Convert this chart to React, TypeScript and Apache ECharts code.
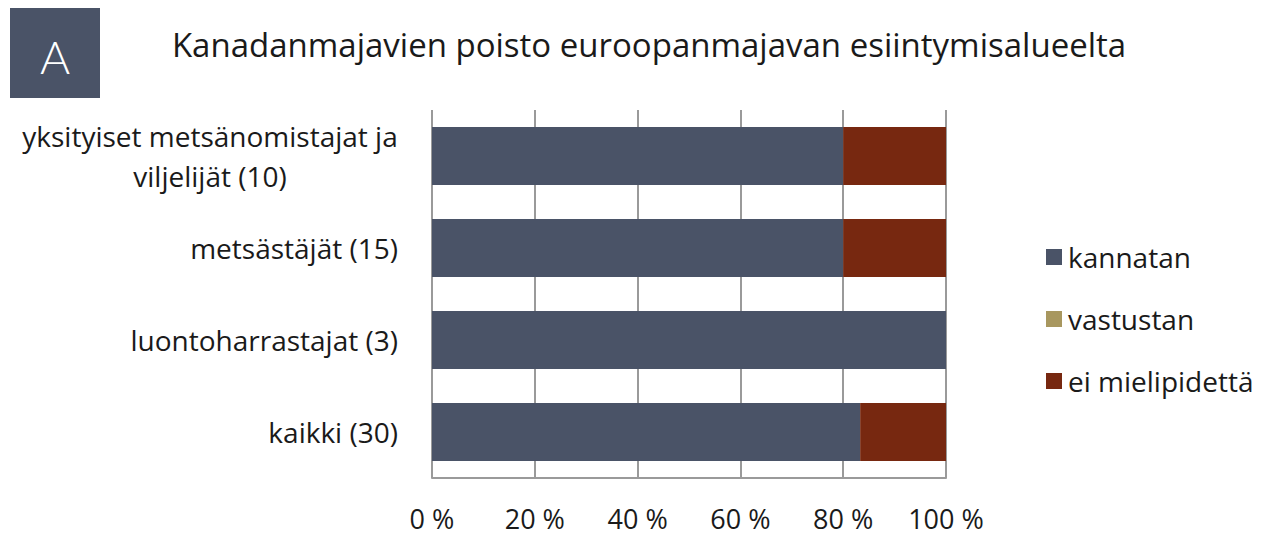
import React, { useEffect, useRef } from "react";
import * as echarts from "echarts";

const categories = [
  "yksityiset metsänomistajat ja\nviljelijät (10)",
  "metsästäjät (15)",
  "luontoharrastajat (3)",
  "kaikki (30)",
];
const seriesNames = ["kannatan", "vastustan", "ei mielipidettä"];
const kannatan = [80, 80, 100, 83.3];
const vastustan = [0, 0, 0, 0];
const eiMielipidetta = [20, 20, 0, 16.7];
const xTicks = [0, 20, 40, 60, 80, 100];
const titleText = "Kanadanmajavien poisto euroopanmajavan esiintymisalueelta";
const panelLetter = "A";

const colors = ["#4a5367", "#a8975f", "#772810"];
const FONT = "'Open Sans', Lato, sans-serif";
const TEXT = "#1a1a1a";
const LABEL_SIZE = 28;

export default function App() {
  const ref = useRef<HTMLDivElement>(null);
  useEffect(() => {
    if (!ref.current) return;
    const chart = echarts.init(ref.current, null, { renderer: "svg" });
    const values = [kannatan, vastustan, eiMielipidetta];
    chart.setOption({
      animation: false,
      color: colors,
      textStyle: { fontFamily: FONT },
      title: {
        text: titleText,
        left: 644,
        top: 23,
        textAlign: "center",
        textStyle: { fontFamily: FONT, fontSize: 33, fontWeight: "normal", color: TEXT },
      },
      graphic: [
        { type: "rect", left: 10, top: 8, shape: { width: 90, height: 90 }, style: { fill: "#4a5367" } },
        {
          type: "text",
          x: 55,
          y: 56,
          style: {
            text: panelLetter,
            fill: "#ffffff",
            font: `300 46px Lato, sans-serif`,
            align: "center",
            verticalAlign: "middle",
          },
        },
      ],
      legend: {
        orient: "vertical",
        left: 1041,
        top: 238,
        itemWidth: 16,
        itemHeight: 16,
        itemGap: 34,
        icon: "rect",
        data: seriesNames,
        textStyle: { fontFamily: FONT, fontSize: LABEL_SIZE, lineHeight: 28, color: TEXT, padding: [0, 0, 0, 1] },
      },
      grid: { left: 432, right: 319, top: 110, bottom: 58, containLabel: false },
      xAxis: {
        type: "value",
        min: 0,
        max: 100,
        interval: 20,
        axisLine: { show: true, lineStyle: { color: "#9a9a9a", width: 2 } },
        axisTick: { show: false },
        splitLine: { show: true, lineStyle: { color: "#9a9a9a", width: 2 } },
        axisLabel: {
          margin: 29,
          fontFamily: FONT,
          fontSize: 27,
          lineHeight: 22,
          color: TEXT,
          formatter: (v: number) => (xTicks.includes(v) ? `${v} %` : ""),
        },
      },
      yAxis: {
        type: "category",
        inverse: true,
        data: categories,
        axisLine: { show: false },
        axisTick: { show: false },
        axisLabel: {
          margin: 34,
          fontFamily: FONT,
          fontSize: LABEL_SIZE,
          color: TEXT,
          lineHeight: 40,
          formatter: (v: string) => {
            if (v.includes("\n")) {
              return v
                .split("\n")
                .map((l) => `{c|${l}}`)
                .join("\n");
            }
            return v;
          },
          rich: {
            c: {
              width: 376,
              align: "center",
              fontFamily: FONT,
              fontSize: LABEL_SIZE,
              color: TEXT,
              lineHeight: 40,
            },
          },
        },
      },
      series: seriesNames.map((name, i) => ({
        name,
        type: "bar",
        stack: "total",
        barWidth: 58,
        data: values[i],
        itemStyle: { color: colors[i] },
      })),
    });
    return () => chart.dispose();
  }, []);
  return (
    <div
      ref={ref}
      style={{ position: "fixed", left: 0, top: 0, width: 1265, height: 536, background: "#fff" }}
    />
  );
}
